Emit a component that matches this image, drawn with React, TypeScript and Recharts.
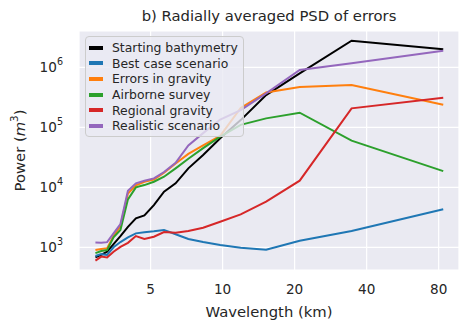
import { LineChart, Line, XAxis, YAxis, CartesianGrid, Label } from 'recharts';

// wavelength bins (km)
const wavelengths = [2.94, 3.11, 3.29, 3.5, 3.74, 4.02, 4.34, 4.71, 5.16, 5.69, 6.36, 7.19, 8.29, 9.77, 11.9, 15.2, 21.0, 34.6, 83.6];

const startingBathymetry = [680, 750, 845, 1135, 1540, 2200, 3040, 3410, 5060, 8470, 11660, 20700, 34500, 65600, 132000, 345000, 794000, 2770000, 2000000];
const bestCase = [715, 770, 745, 1000, 1225, 1470, 1710, 1780, 1850, 1950, 1650, 1375, 1225, 1090, 985, 910, 1290, 1870, 4300];
const errorsInGravity = [900, 940, 970, 1540, 2270, 7900, 10800, 12400, 13500, 17500, 25000, 36000, 50000, 72000, 210000, 380000, 470000, 506000, 237000];
const airborneSurvey = [800, 870, 900, 1470, 1940, 6300, 10000, 10900, 12400, 15000, 20700, 30000, 45000, 70000, 110000, 141000, 175000, 60000, 18600];
const regionalGravity = [600, 700, 680, 845, 1020, 1190, 1540, 1375, 1500, 1800, 1750, 1870, 2120, 2670, 3540, 5760, 12900, 207000, 311000];
const realistic = [1200, 1190, 1220, 1710, 2440, 8770, 11660, 12900, 14100, 18000, 25600, 50000, 80000, 135000, 194000, 369000, 902000, 1170000, 1890000];

const xTicks = [5, 10, 20, 40, 80];
const yTicks = [1e3, 1e4, 1e5, 1e6];

const series = [
  { key: 'start', name: 'Starting bathymetry', color: '#000000', values: startingBathymetry },
  { key: 'best', name: 'Best case scenario', color: '#1f77b4', values: bestCase },
  { key: 'grav', name: 'Errors in gravity', color: '#ff7f0e', values: errorsInGravity },
  { key: 'air', name: 'Airborne survey', color: '#2ca02c', values: airborneSurvey },
  { key: 'reg', name: 'Regional gravity', color: '#d62728', values: regionalGravity },
  { key: 'real', name: 'Realistic scenario', color: '#9467bd', values: realistic },
];

const data = wavelengths.map((w, i) => {
  const row: Record<string, number> = { w };
  series.forEach((s) => (row[s.key] = s.values[i]));
  return row;
});

const FONT = '"DejaVu Sans", sans-serif';
const INK = '#262626';

function PowerTick({ x, y, payload }: { x?: number; y?: number; payload?: { value: number } }) {
  const exp = Math.round(Math.log10(payload?.value ?? 1));
  return (
    <text x={x} y={(y ?? 0) + 5} textAnchor="end" fill={INK} fontSize={13.6} fontFamily={FONT}>
      <tspan>10</tspan>
      <tspan dy={-7} fontSize={9.6}>{exp}</tspan>
    </text>
  );
}

function YTitle({ viewBox }: { viewBox?: { x: number; y: number; width: number; height: number } }) {
  if (!viewBox) return null;
  const cx = 25;
  const cy = viewBox.y + viewBox.height / 2;
  return (
    <text x={cx} y={cy} transform={`rotate(-90 ${cx} ${cy})`} textAnchor="middle" fill={INK} fontSize={14.8} fontFamily={FONT}>
      <tspan>Power (</tspan>
      <tspan fontStyle="italic">m</tspan>
      <tspan dy={-7} fontSize={10.4}>3</tspan>
      <tspan dy={7}>)</tspan>
    </text>
  );
}

function XTitle({ viewBox }: { viewBox?: { x: number; y: number; width: number; height: number } }) {
  if (!viewBox) return null;
  return (
    <text x={viewBox.x + viewBox.width / 2} y={viewBox.y + 47} textAnchor="middle" fill={INK} fontSize={14.8} fontFamily={FONT}>
      Wavelength (km)
    </text>
  );
}

export default function App() {
  return (
    <div style={{ position: 'fixed', left: 0, top: 0, width: 470, height: 330, background: '#fff', fontFamily: FONT }}>
      <div style={{ position: 'absolute', left: 79, width: 380, top: 6, textAlign: 'center', fontSize: 14.8, color: INK, lineHeight: '20px' }}>
        b) Radially averaged PSD of errors
      </div>
      <LineChart width={470} height={330} data={data} margin={{ top: 31, right: 11, bottom: 0, left: 9 }}>
        <CartesianGrid stroke="#ffffff" strokeWidth={1.2} fill="#eaeaf2" />
        <XAxis
          dataKey="w"
          type="number"
          scale="log"
          domain={[2.51, 97.3]}
          allowDataOverflow
          ticks={xTicks}
          height={60}
          axisLine={false}
          tickLine={false}
          tickSize={0}
          tickMargin={14}
          tick={{ fill: INK, fontSize: 13.6, fontFamily: FONT }}
        >
          <Label content={<XTitle />} />
        </XAxis>
        <YAxis
          type="number"
          scale="log"
          domain={[419, 4.03e6]}
          allowDataOverflow
          ticks={yTicks}
          width={70}
          axisLine={false}
          tickLine={false}
          tickSize={0}
          tickMargin={16}
          tick={<PowerTick />}
        >
          <Label content={<YTitle />} />
        </YAxis>
        {series.map((s) => (
          <Line
            key={s.key}
            dataKey={s.key}
            stroke={s.color}
            strokeWidth={2}
            dot={false}
            activeDot={false}
            isAnimationActive={false}
          />
        ))}
      </LineChart>
      <div
        style={{
          position: 'absolute',
          left: 85,
          top: 36,
          width: 159,
          height: 101,
          background: 'rgba(234,234,242,0.8)',
          border: '1px solid #cccccc',
          borderRadius: 4,
          paddingTop: 3,
          boxSizing: 'border-box',
        }}
      >
        {series.map((s) => (
          <div key={s.key} style={{ display: 'flex', alignItems: 'center', height: 15.6 }}>
            <div style={{ marginLeft: 3, width: 14, height: 4, background: s.color }} />
            <span style={{ marginLeft: 9, fontSize: 12.4, color: INK, whiteSpace: 'nowrap' }}>{s.name}</span>
          </div>
        ))}
      </div>
    </div>
  );
}
